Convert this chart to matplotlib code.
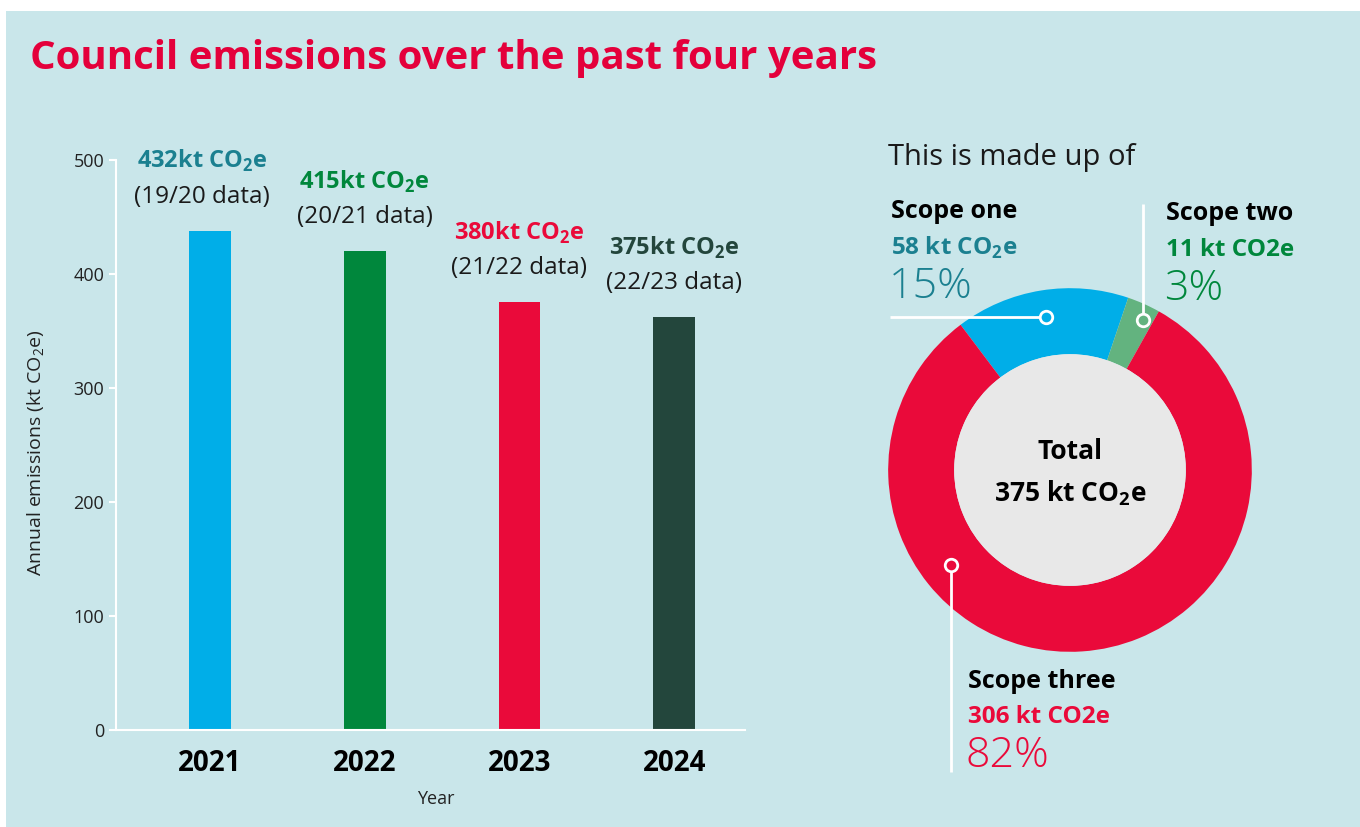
import matplotlib
matplotlib.use("Agg")
import matplotlib.pyplot as plt
from matplotlib.patches import Rectangle, Circle

plt.rcParams['font.family'] = ['Open Sans', 'DejaVu Sans']
plt.rcParams['mathtext.fontset'] = 'custom'
plt.rcParams['mathtext.rm'] = 'Open Sans'
plt.rcParams['mathtext.bf'] = 'Open Sans:bold'

# bar data
years = ["2021", "2022", "2023", "2024"]
emissions = [438, 420, 375, 362]
bar_colors = ["#00aee8", "#00873c", "#ea0a3a", "#23463c"]
label_colors = ["#1b8090", "#00873c", "#ea0a3a", "#23463c"]
value_labels = ["432kt CO$_\\mathbf{2}$e", "415kt CO$_\\mathbf{2}$e",
                "380kt CO$_\\mathbf{2}$e", "375kt CO$_\\mathbf{2}$e"]
data_labels = ["(19/20 data)", "(20/21 data)", "(21/22 data)", "(22/23 data)"]
yticks = [0, 100, 200, 300, 400, 500]

# donut data
scopes = ["Scope one", "Scope two", "Scope three"]
scope_values = [58, 11, 306]
scope_colors = ["#00aee8", "#63b37f", "#ea0a3a"]
scope_text_colors = ["#1b8090", "#00873c", "#ea0a3a"]
scope_amounts = ["58 kt CO$_\\mathbf{2}$e", "11 kt CO2e", "306 kt CO2e"]
scope_pcts = ["15%", "3%", "82%"]

BG = "#c9e6ea"
W, H = 1360, 827

fig = plt.figure(figsize=(13.6, 8.27), dpi=100, facecolor="white")
fig.patches.append(Rectangle((6 / W, 0), 1, 1 - 11 / H, transform=fig.transFigure,
                             facecolor=BG, edgecolor="none", zorder=-10))


def px(x, y):
    return x / W, 1 - y / H


fig.text(*px(30, 58), "Council emissions over the past four years", color="#e4003b",
         fontsize=29, fontweight="bold", va="center", ha="left")

# ---- bar chart ----
ax = fig.add_axes([116 / W, 1 - 730 / H, (745 - 116) / W, (730 - 160) / H])
ax.set_facecolor("none")
xs = range(len(years))
ax.bar(xs, emissions, width=0.27, color=bar_colors)
ax.set_xlim(-0.608, 3.458)
ax.set_ylim(0, 500)
ax.set_yticks(yticks)
ax.set_xticks(list(xs))
ax.set_xticklabels(years, fontsize=20, fontweight="bold", color="black")
ax.tick_params(axis="x", length=0, pad=14)
ax.tick_params(axis="y", colors="white", labelcolor="#222222", labelsize=13, length=5, width=1.5)
for s in ["top", "right"]:
    ax.spines[s].set_visible(False)
for s in ["left", "bottom"]:
    ax.spines[s].set_color("white")
    ax.spines[s].set_linewidth(1.5)
ax.set_xlabel("Year", fontsize=13, color="#222222")
ax.xaxis.set_label_coords((436 - 116) / (745 - 116), -(790 - 730) / (730 - 160))
ax.set_ylabel("Annual emissions (kt CO$_2$e)", fontsize=14, color="#222222")
ax.yaxis.set_label_coords(-(116 - 47) / (745 - 116), (730 - 453) / (730 - 160))

label_dx = [-0.05, 0, 0, 0]
for i, (v, lab, dl) in enumerate(zip(emissions, value_labels, data_labels)):
    ax.annotate(lab, (i + label_dx[i], v), xytext=(0, 50), textcoords="offset points",
                ha="center", va="center", fontsize=17, fontweight="bold",
                color=label_colors[i], annotation_clip=False)
    ax.annotate(dl, (i + label_dx[i], v), xytext=(0, 24.5), textcoords="offset points",
                ha="center", va="center", fontsize=17.5, color="#1a1a1a",
                annotation_clip=False)

# ---- donut ----
dax = fig.add_axes([(1070 - 200) / W, 1 - (470 + 200) / H, 400 / W, 400 / H])
dax.set_facecolor("none")
dax.pie(scope_values, colors=scope_colors, startangle=127, counterclock=False,
        radius=1, wedgeprops=dict(width=0.363, linewidth=0))
dax.add_patch(Circle((0, 0), 0.637, facecolor="#e8e8e8", edgecolor="none"))
dax.set_xlim(-1.1, 1.1)
dax.set_ylim(-1.1, 1.1)
dax.set_aspect("equal")
dax.axis("off")
dax.text(0, 0.1, "Total", ha="center", va="center", fontsize=19, fontweight="bold")
dax.text(0, -0.13, "375 kt CO$_\\mathbf{2}$e", ha="center", va="center", fontsize=19,
         fontweight="bold")

# leader lines
leaders = [((-0.132, 0.841), (-0.989, 0.841)),
           ((0.401, 0.824), (0.401, 1.462)),
           ((-0.654, -0.522), (-0.654, -1.659))]
for (dot, end), c in zip(leaders, scope_colors):
    dax.plot([dot[0], end[0]], [dot[1], end[1]], color="white", lw=2, clip_on=False,
             solid_capstyle="butt")
    dax.plot(*dot, "o", ms=9, mfc=c, mec="white", mew=2, clip_on=False)

fig.text(*px(888, 157), "This is made up of", fontsize=21, color="#1a1a1a", va="center")

label_pos = [(891, 212), (1166, 214), (968, 681)]
for i, (x, y) in enumerate(label_pos):
    fig.text(*px(x, y), scopes[i], fontsize=18, fontweight="bold", color="black", va="center")
    fig.text(*px(x, y + 36), scope_amounts[i], fontsize=17.5, fontweight="bold",
             color=scope_text_colors[i], va="center")
    fig.text(*px(x - 2, y + 75), scope_pcts[i], fontsize=31, fontweight="light",
             color=scope_text_colors[i], va="center")

fig.savefig("out.png", dpi=100, facecolor="white")
